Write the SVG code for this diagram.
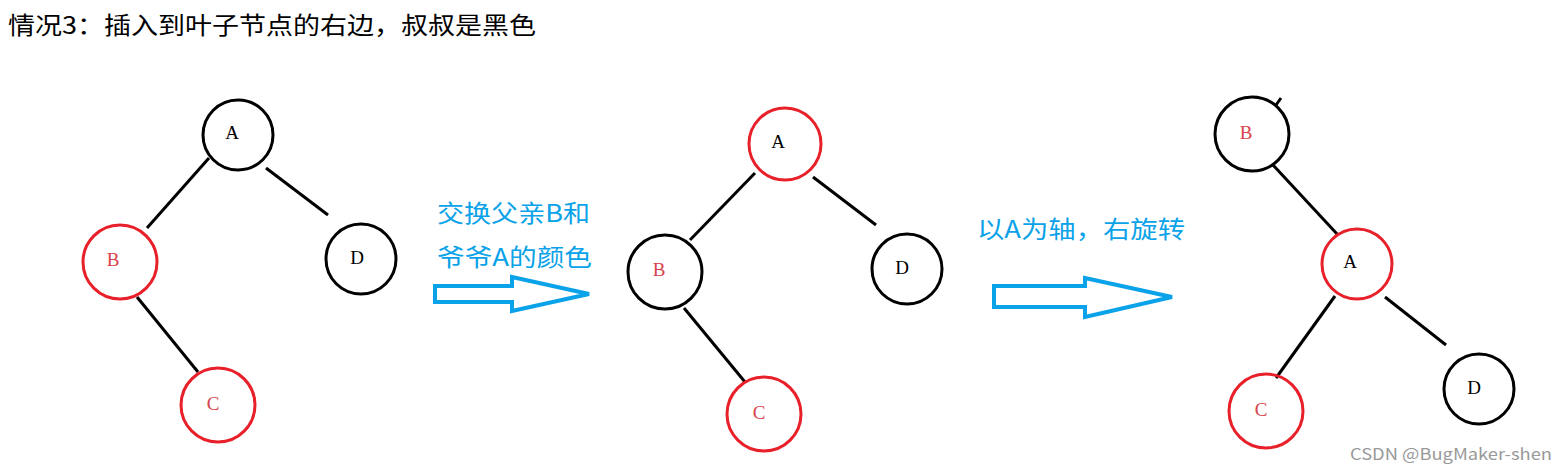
<svg xmlns="http://www.w3.org/2000/svg" width="1566" height="474" viewBox="0 0 1566 474">
<style>
.t{font-family:"Noto Sans CJK SC","Liberation Sans",sans-serif}
.n{font-family:"Liberation Serif",serif;font-size:19px;text-anchor:middle}
.bk{fill:none;stroke:#000;stroke-width:3}
.rd{fill:none;stroke:#e8202a;stroke-width:3}
.e{stroke:#000;stroke-width:3}
.ar{fill:none;stroke:#0aa2e8;stroke-width:4;stroke-linejoin:miter}
.lab{font-family:"Noto Sans CJK SC","Liberation Sans",sans-serif;font-size:24px;fill:#0aa2e8}
</style>
<rect width="1566" height="474" fill="#fff"/>
<text class="t" x="8" y="34" font-size="24" fill="#000" textLength="528" lengthAdjust="spacingAndGlyphs">情况3：插入到叶子节点的右边，叔叔是黑色</text>
<g id="connectors">
<line class="e" x1="209" y1="158" x2="147" y2="228"/>
<line class="e" x1="266" y1="168" x2="328" y2="215"/>
<line class="e" x1="137" y1="297" x2="198" y2="372"/>
<line class="e" x1="755" y1="173" x2="690" y2="240"/>
<line class="e" x1="813" y1="177" x2="876" y2="225"/>
<line class="e" x1="684" y1="308" x2="745" y2="382"/>
<line class="e" x1="1273" y1="165" x2="1338" y2="235"/>
<line class="e" x1="1335" y1="296" x2="1276" y2="378"/>
<line class="e" x1="1385" y1="297" x2="1446" y2="345"/>
<line class="e" x1="1276" y1="105" x2="1281" y2="98"/>
</g>
<g id="n1A"><circle class="bk" cx="238" cy="135" r="35"/><text class="n" x="232" y="139">A</text></g>
<g id="n1B"><circle class="rd" cx="120" cy="262" r="37"/><text class="n" x="113" y="266" fill="#d9434c">B</text></g>
<g id="n1D"><circle class="bk" cx="361" cy="259" r="35"/><text class="n" x="357" y="264">D</text></g>
<g id="n1C"><circle class="rd" cx="218" cy="405" r="37"/><text class="n" x="213" y="410" fill="#d9434c">C</text></g>
<g id="n2A"><circle class="rd" cx="785" cy="144" r="36"/><text class="n" x="778" y="148">A</text></g>
<g id="n2B"><circle class="bk" cx="665" cy="272" r="37"/><text class="n" x="659" y="276" fill="#d9434c">B</text></g>
<g id="n2D"><circle class="bk" cx="907" cy="269" r="35"/><text class="n" x="902" y="274">D</text></g>
<g id="n2C"><circle class="rd" cx="764" cy="414" r="37"/><text class="n" x="759" y="419" fill="#d9434c">C</text></g>
<g id="n3B"><circle class="bk" cx="1252" cy="134" r="37"/><text class="n" x="1246" y="139" fill="#d9434c">B</text></g>
<g id="n3A"><circle class="rd" cx="1357" cy="264" r="35"/><text class="n" x="1350" y="268">A</text></g>
<g id="n3D"><circle class="bk" cx="1479" cy="389" r="35"/><text class="n" x="1474" y="394">D</text></g>
<g id="n3C"><circle class="rd" cx="1266" cy="411" r="37"/><text class="n" x="1261" y="416" fill="#d9434c">C</text></g>
<g id="arrow1"><polygon class="ar" points="435,286 512,286 512,277 589,294 512,311 512,302 435,302"/>
<text class="lab" x="437" y="222" textLength="153" lengthAdjust="spacingAndGlyphs">交换父亲B和</text><text class="lab" x="437" y="266" textLength="155" lengthAdjust="spacingAndGlyphs">爷爷A的颜色</text></g>
<g id="arrow2"><polygon class="ar" points="994,286 1085,286 1085,278 1172,297 1085,317 1085,307 994,307"/>
<text class="lab" x="977" y="238" textLength="208" lengthAdjust="spacingAndGlyphs">以A为轴，右旋转</text></g>
<text class="t" x="1350" y="460" font-size="16" fill="#999" textLength="202" lengthAdjust="spacingAndGlyphs">CSDN @BugMaker-shen</text>
</svg>
